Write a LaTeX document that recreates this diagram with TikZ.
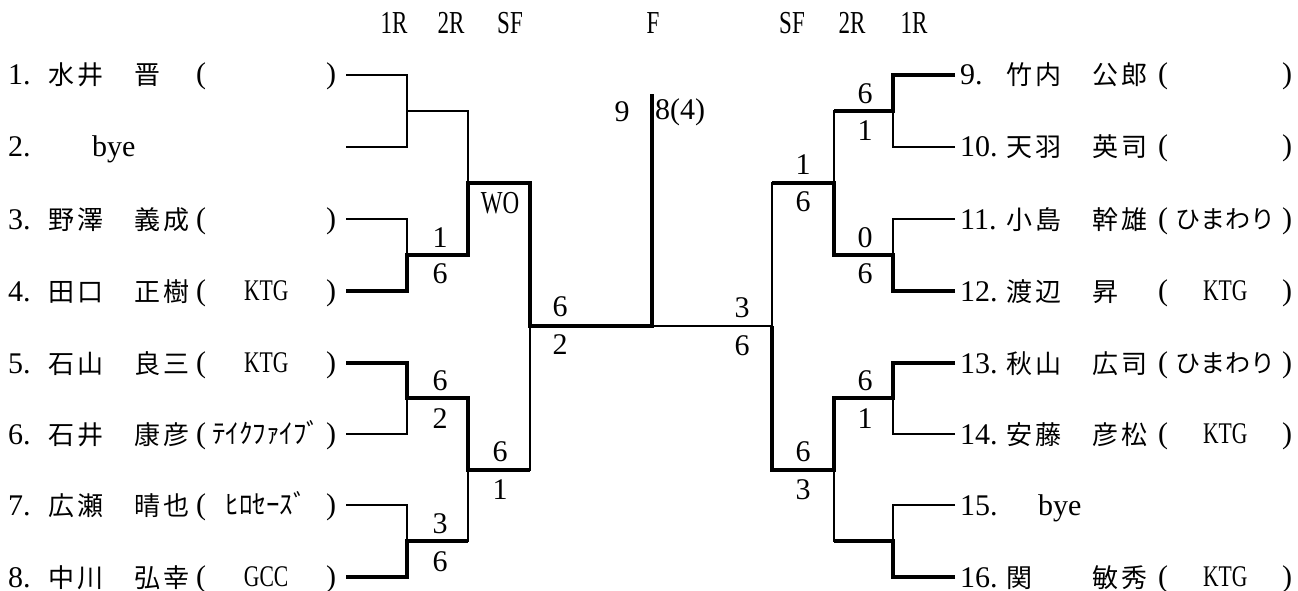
\documentclass[tikz,border=0pt]{standalone}
\usepackage{fontspec}
\setmainfont{Liberation Serif}
\newfontfamily\jpfont[LetterSpace=11]{Noto Sans CJK JP}
\newfontfamily\kanafont{Noto Sans CJK JP}
\newfontfamily\narrowfont[FakeStretch=0.72]{Liberation Serif}

\tikzset{
  lose/.style={black,line width=1.2pt},
  win/.style={black,line width=4.5pt},
  txt/.style={inner sep=0pt,anchor=base west,font=\fontsize{30}{34}\selectfont},
  jname/.style={txt,font=\jpfont\fontsize{26}{30}\selectfont},
  score/.style={inner sep=0pt,font=\fontsize{30}{34}\selectfont},
  rhead/.style={inner sep=0pt,font=\narrowfont\fontsize{32}{36}\selectfont},
}

\begin{document}
\begin{tikzpicture}[x=1pt,y=-1pt]
        \useasboundingbox (0,0) rectangle (1298,591);
        % round headers
        \node[rhead] (h1) at (394,23) {1R};
        \node[rhead] (h2) at (451,23) {2R};
        \node[rhead] (h3) at (510,23) {SF};
        \node[rhead] (h4) at (653,23) {F};
        \node[rhead] (h5) at (792,23) {SF};
        \node[rhead] (h6) at (852,23) {2R};
        \node[rhead] (h7) at (914,23) {1R};
        % left players
        \foreach \i/\y/\nm/\cl in {1/75/水井　晋/{}, 3/219/野澤　義成/{}, 4/291/田口　正樹/{\narrowfont KTG},
            5/363/石山　良三/{\narrowfont KTG}, 6/434/石井　康彦/{\kanafont\fontsize{27}{30}\selectfont ﾃｲｸﾌｧｲﾌﾞ},
            7/505/広瀬　晴也/{\kanafont\fontsize{27}{30}\selectfont ﾋﾛｾｰｽﾞ}, 8/577/中川　弘幸/{\narrowfont GCC}}{
            \node[txt] (n\i) at (8,\y+10) {\i.};
            \node[jname] (nm\i) at (48,\y+10) {\nm};
            \node[txt] (c\i) at (196,\y+9) {\makebox[140pt][s]{(\hfill{\cl}\hfill)}};
            \coordinate (s\i) at (346,\y);
        }
        \node[txt] (n2) at (8,157) {2.};
        \node[txt] (b2) at (92,157) {bye};
        \coordinate (s2) at (346,147);
        % right players
        \foreach \i/\y/\nm/\cl in {9/75/竹内　公郎/{}, 10/147/天羽　英司/{}, 11/219/小島　幹雄/{\kanafont\fontsize{25}{30}\selectfont ひまわり},
            12/291/渡辺　昇/{\narrowfont KTG}, 13/363/秋山　広司/{\kanafont\fontsize{25}{30}\selectfont ひまわり},
            14/434/安藤　彦松/{\narrowfont KTG}, 16/577/関　　敏秀/{\narrowfont KTG}}{
            \node[txt] (n\i) at (960,\y+10) {\i.};
            \node[jname] (nm\i) at (1006,\y+10) {\nm};
            \node[txt] (c\i) at (1158,\y+9) {\makebox[134pt][s]{(\hfill{\cl}\hfill)}};
            \coordinate (t\i) at (955,\y);
        }
        \node[txt] (n15) at (960,515) {15.};
        \node[txt] (b15) at (1038,515) {bye};
        \coordinate (t15) at (955,505);
        % junctions
        \coordinate (j12) at (407,111);
        \coordinate (j34) at (407,255);
        \coordinate (j56) at (407,398);
        \coordinate (j78) at (407,541);
        \coordinate (k1) at (468,183);
        \coordinate (k2) at (468,470);
        \coordinate (L) at (530,326);
        \coordinate (F) at (652,326);
        \coordinate (Ftop) at (652,94);
        \coordinate (j910) at (893,111);
        \coordinate (j1112) at (893,255);
        \coordinate (j1314) at (893,398);
        \coordinate (j1516) at (893,541);
        \coordinate (k3) at (834,183);
        \coordinate (k4) at (834,470);
        \coordinate (R) at (772,326);
        % bracket
        \draw[lose] (s1) -| (j12) (s2) -| (j12) (s3) -| (j34) (s4) -| (j34)
            (s5) -| (j56) (s6) -| (j56) (s7) -| (j78) (s8) -| (j78)
            (j12) -| (k1) (j34) -| (k1) (j56) -| (k2) (j78) -| (k2)
            (k1) -| (L) (k2) -| (L) (L) -| (Ftop);
        \draw[lose] (t9) -| (j910) (t10) -| (j910) (t11) -| (j1112) (t12) -| (j1112)
            (t13) -| (j1314) (t14) -| (j1314) (t15) -| (j1516) (t16) -| (j1516)
            (j910) -| (k3) (j1112) -| (k3) (j1314) -| (k4) (j1516) -| (k4)
            (k3) -| (R) (k4) -| (R) (R) -- (F);
        % winners
        \draw[win] (s4) -| (j34) -| (k1) -| (L) -| (Ftop);
        \draw[win] (s5) -| (j56) -| (k2) -- (k2 -| L);
        \draw[win] (s8) -| (j78) -- (j78 -| k2);
        \draw[win] (t9) -| (j910) -- (j910 -| k3);
        \draw[win] (t12) -| (j1112) -| (k3) -- (k3 -| R);
        \draw[win] (t13) -| (j1314) -| (k4) -| (R);
        \draw[win] (t16) -| (j1516) -- (j1516 -| k4);
        % scores
        \node[score] (a34) at (440,238) {1};
        \node[score] (b34) at (440,274) {6};
        \node[score] (a56) at (440,381) {6};
        \node[score] (b56) at (440,419) {2};
        \node[score] (a78) at (440,524) {3};
        \node[score] (b78) at (440,562) {6};
        \node[rhead] (bk1) at (500,203) {WO};
        \node[score] (ak2) at (500,452) {6};
        \node[score] (bk2) at (500,490) {1};
        \node[score] (aL) at (560,307) {6};
        \node[score] (bL) at (560,345) {2};
        \node[score] (a910) at (865,94) {6};
        \node[score] (b910) at (865,131) {1};
        \node[score] (a1112) at (865,238) {0};
        \node[score] (b1112) at (865,274) {6};
        \node[score] (a1314) at (865,381) {6};
        \node[score] (b1314) at (865,419) {1};
        \node[score] (ak3) at (803,165) {1};
        \node[score] (bk3) at (803,202) {6};
        \node[score] (ak4) at (803,452) {6};
        \node[score] (bk4) at (803,490) {3};
        \node[score] (aR) at (742,308) {3};
        \node[score] (bR) at (742,346) {6};
        \node[score] (fa) at (622,112) {9};
        \node[score,anchor=west] (fb) at (655,112) {8(4)};
\end{tikzpicture}
\end{document}
